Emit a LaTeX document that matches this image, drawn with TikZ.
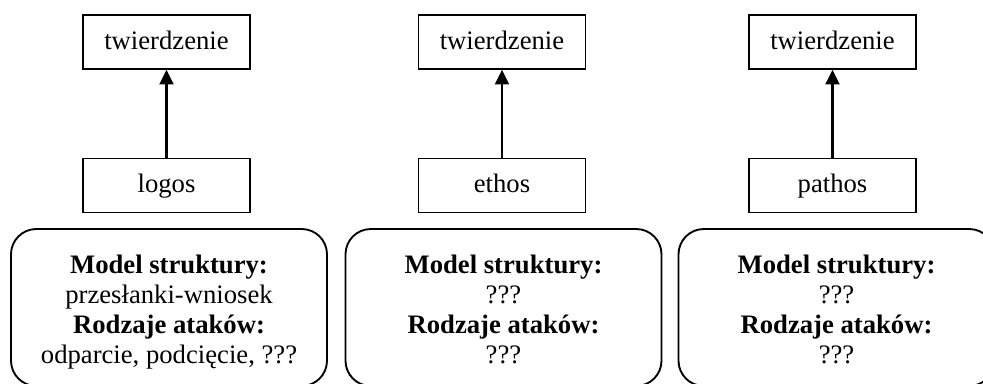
\documentclass[tikz,border=0pt]{standalone}
\usepackage{fontspec}
\setmainfont{Liberation Serif}
\usetikzlibrary{arrows.meta}
\begin{document}
\begin{tikzpicture}[x=0.75pt,y=-0.75pt,
  box/.style={draw, line width=1.2pt, minimum width=125.25pt, minimum height=40.5pt, inner sep=0pt, text height=14.5pt, text depth=3.5pt, font=\fontsize{20}{22.5}\selectfont},
  panel/.style={draw, line width=1.4pt, rounded corners=19pt, minimum width=237pt, minimum height=117.75pt, inner sep=0pt},
  paneltext/.style={align=center, inner sep=0pt, font=\fontsize{20}{22.5}\selectfont},
  link/.style={-{Triangle[length=11pt,width=10.5pt]}, line width=1.6pt}]
\useasboundingbox (0,0) rectangle (983,383);
\clip (0,0) rectangle (983,383);

% column 1
\node[box] (tw1) at (166.5,42) {twierdzenie};
\node[box] (logos) at (166.5,185.5) {logos};
\draw[link] (logos) -- (tw1);
\node[panel] (p1) at (169,307.5) {};
\node[paneltext] (t1) at (169,312) {\strut\textbf{Model struktury:}\\ przesłanki-wniosek\\ \textbf{Rodzaje ataków:}\\ odparcie, podcięcie, ???\strut};

% column 2
\node[box] (tw2) at (502,42) {twierdzenie};
\node[box] (ethos) at (502,185.5) {ethos};
\draw[link] (ethos) -- (tw2);
\node[panel] (p2) at (503.5,307.5) {};
\node[paneltext] (t2) at (503.5,312) {\strut\textbf{Model struktury:}\\ ???\\ \textbf{Rodzaje ataków:}\\ ???\strut};

% column 3
\node[box] (tw3) at (832.5,42) {twierdzenie};
\node[box] (pathos) at (832.5,185.5) {pathos};
\draw[link] (pathos) -- (tw3);
\node[panel] (p3) at (836.5,307.5) {};
\node[paneltext] (t3) at (836.5,312) {\strut\textbf{Model struktury:}\\ ???\\ \textbf{Rodzaje ataków:}\\ ???\strut};
\end{tikzpicture}
\end{document}
